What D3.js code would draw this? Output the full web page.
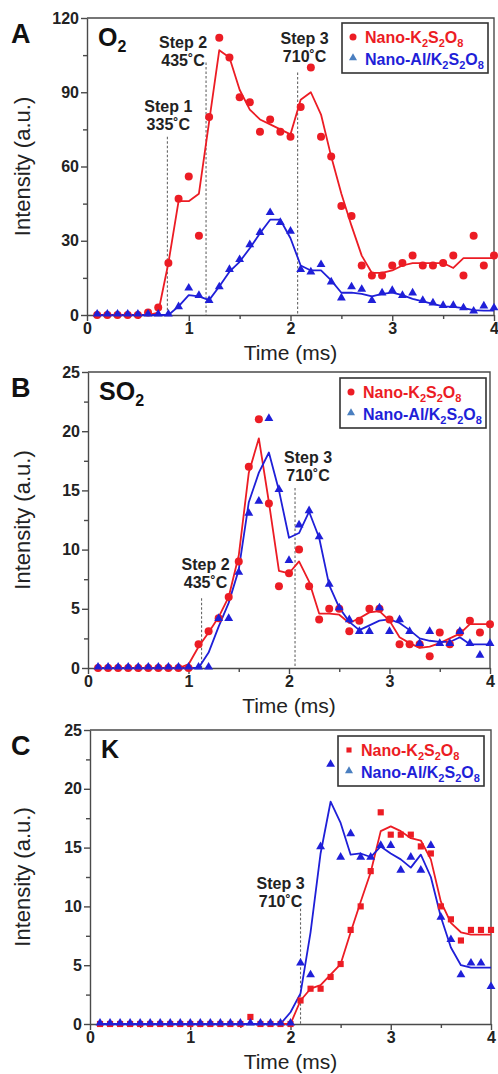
<!DOCTYPE html>
<html>
<head>
<meta charset="utf-8">
<script src="https://cdn.jsdelivr.net/npm/d3@7"></script>
<style>
  body { margin: 0; background: #fff; }
  svg { font-family: "Liberation Sans", Arial, sans-serif; }
  .axis path, .axis line { stroke: #4a4a4a; stroke-width: 1.4; }
  .axis text { font-size: 16px; font-weight: bold; fill: #222; }
</style>
</head>
<body>
<svg width="498" height="1074"></svg>
<script>
// sampling times (ms)
var timeMs = [0.1, 0.2, 0.3, 0.4, 0.5, 0.6, 0.7, 0.8, 0.9, 1.0,
              1.1, 1.2, 1.3, 1.4, 1.5, 1.6, 1.7, 1.8, 1.9, 2.0,
              2.1, 2.2, 2.3, 2.4, 2.5, 2.6, 2.7, 2.8, 2.9, 3.0,
              3.1, 3.2, 3.3, 3.4, 3.5, 3.6, 3.7, 3.8, 3.9, 4.0];

var seriesNames = ["Nano-K2S2O8", "Nano-Al/K2S2O8"];

// panel A : O2
var o2K     = [0,0,0,0,0,1,3,21,47,56,32,80,112,104,88,86,74,79,74,72,84,100,72,64,44,40,20,16,16,20,21,24,20,20,21,24,16,32,20,24];
var o2KFit  = [0,0,0,0,0,0,1,21,46,46,49,78,107,104,91,83,79,77,75,73,87,90,81,64,49,36,24,17,17,18,20,21,21,21,21,19,23,23,23,23];
var o2Al    = [0,0,0,0,0,0,0,0,3,10.5,7.5,5.5,11,18,22,28,33,41,37,33.5,18,17,20,13,6.5,11,10,5.5,8.5,9.5,7.5,8.5,5.5,4.5,3.5,3.5,2.5,1.2,3.3,2.5];
var o2AlFit = [0,0,0,0,0,0,0,0,3.5,8,7.5,6,11.5,17.5,21.5,27,33,38.5,38.5,31,20,18,18,14,9,9,8.5,7.5,8.5,9,8,6.5,5.5,4.5,3.5,3.3,2.8,2,1.8,1.8];

// panel B : SO2
var so2K     = [0,0,0,0,0,0,0,0,0,0,2,3.1,4.2,6,9,17,21,13.9,6.9,8,10,6.9,4.1,5,5,3.1,4,5,5,4.1,2,2,2,1,3,2,3,4,3,3.7];
var so2KFit  = [0,0,0,0,0,0,0,0,0,0.3,1.8,3,4.3,6,9.5,16.5,19.4,14,8.2,8,9,7.3,4.6,4.6,4.5,3.8,4.2,4.7,4.8,4,2.6,2.1,1.7,1.8,2.1,2.5,2.9,3.7,3.7,3.7];
var so2Al    = [0,0,0,0,0,0,0,0,0,0,0,0,4.1,4.1,8,13,14,21,15,9,12,13.2,11,7,5,4,3,3,5,3,4,3,2,3,2,2,3,2,1,2];
var so2AlFit = [0,0,0,0,0,0,0,0,0,0,0,1.3,3.5,5.5,8.3,14,16.5,18.2,15,11,11.4,13.2,11,7,5.1,3.9,3.2,3.6,4,4.1,3.8,3.2,2.5,2.3,2.2,2.2,2.6,2,2,2];

// panel C : K
var kK     = [0,0,0,0,0,0,0,0,0,0,0,0,0,0,0,0.6,0,0,0,0,2,3,3,4,5.1,8,10,13,18,16.1,16.1,16.1,15.1,14.5,10,8.9,7.1,8,8,8];
var kKFit  = [0,0,0,0,0,0,0,0,0,0,0,0,0,0,0,0,0,0,0,0,2,3,3.3,4.2,5.1,7.8,10.4,12.9,16.4,16.8,16.4,15.8,15.6,14,10.4,8.6,7.8,7.6,7.6,7.6];
var kAl    = [0,0,0,0,0,0,0,0,0,0,0,0,0,0,0,0,0,0,0,0,5.1,4.1,15,22,14.1,16.1,14.1,14.1,15.1,15.1,13,14.1,13,15.1,9,7.1,4.1,5.1,5.1,3.1];
var kAlFit = [0,0,0,0,0,0,0,0,0,0,0,0,0,0,0,0,0,0,0,1,2.6,7.8,14.5,18.9,17.1,14.4,14.5,14.2,15.1,14.5,14,13.3,14.4,12.5,9.1,6.5,5,4.8,4.8,4.8];

// step annotations: time of the dashed line, top of the line (a.u.), text
var o2Steps  = [{t: 0.79, top: 72,  name: "Step 1", temp: "335˚C"},
                {t: 1.17, top: 102, name: "Step 2", temp: "435˚C"},
                {t: 2.07, top: 98,  name: "Step 3", temp: "710˚C"}];
var so2Steps = [{t: 1.13, top: 5.9,  name: "Step 2", temp: "435˚C"},
                {t: 2.06, top: 15.2, name: "Step 3", temp: "710˚C"}];
var kSteps   = [{t: 2.1,  top: 9.8,  name: "Step 3", temp: "710˚C"}];

var redColor = "#ec1c24";
var blueColor = "#1f1fd8";
var legendTri = "#4a7fc0";

var svg = d3.select("svg");

var panels = [
  {letter: "A", gas: "O", sub: "2", left: 87, right: 494, top: 18, bottom: 315,
   ymax: 120, ystep: 30, kFit: o2KFit, k: o2K, al: o2Al, alFit: o2AlFit,
   steps: o2Steps, stepDx: [1, -23, 7], stepDy: [-7, 3, -10], kShape: "circle",
   legend: {x: 342, y: 23}},
  {letter: "B", gas: "SO", sub: "2", left: 88, right: 490, top: 372, bottom: 668,
   ymax: 25, ystep: 5, kFit: so2KFit, k: so2K, al: so2Al, alFit: so2AlFit,
   steps: so2Steps, stepDx: [4, 13], stepDy: [-10, -7], kShape: "circle",
   legend: {x: 340, y: 378}},
  {letter: "C", gas: "K", sub: "", left: 90, right: 491, top: 730, bottom: 1024,
   ymax: 25, ystep: 5, kFit: kKFit, k: kK, al: kAl, alFit: kAlFit,
   steps: kSteps, stepDx: [-20], stepDy: [-2], kShape: "square",
   legend: {x: 338, y: 736}}
];

panels.forEach(drawPanel);

function drawPanel(p) {
  var x = d3.scaleLinear().domain([0, 4]).range([p.left, p.right]);
  var y = d3.scaleLinear().domain([0, p.ymax]).range([p.bottom, p.top]);
  var g = svg.append("g");

  // minor ticks
  g.append("g").attr("class", "axis")
    .attr("transform", "translate(0," + p.bottom + ")")
    .call(d3.axisBottom(x).tickValues([0.5, 1.5, 2.5, 3.5]).tickSize(4).tickFormat(""))
    .select(".domain").remove();
  g.append("g").attr("class", "axis")
    .attr("transform", "translate(" + p.left + ",0)")
    .call(d3.axisLeft(y).tickValues(d3.range(p.ystep / 2, p.ymax, p.ystep)).tickSize(4).tickFormat(""))
    .select(".domain").remove();

  // major axes
  var xa = g.append("g").attr("class", "axis")
    .attr("transform", "translate(0," + p.bottom + ")")
    .call(d3.axisBottom(x).tickValues([0, 1, 2, 3, 4]).tickSize(6).tickSizeOuter(0).tickFormat(d3.format("d")));
  xa.selectAll("text").attr("y", 8);
  var ya = g.append("g").attr("class", "axis")
    .attr("transform", "translate(" + p.left + ",0)")
    .call(d3.axisLeft(y).tickValues(d3.range(0, p.ymax + 1, p.ystep)).tickSize(6).tickSizeOuter(0));
  ya.selectAll("text").attr("x", -8);

  // frame top / right
  g.append("path")
    .attr("d", "M" + p.left + "," + p.top + "H" + p.right + "V" + p.bottom)
    .attr("fill", "none").attr("stroke", "#4a4a4a").attr("stroke-width", 1.4);

  // titles
  g.append("text")
    .attr("x", (p.left + p.right) / 2).attr("y", p.bottom + 45)
    .attr("text-anchor", "middle").attr("font-size", 21).attr("fill", "#222")
    .text("Time (ms)");
  g.append("text")
    .attr("transform", "translate(30," + (p.top + p.bottom) / 2 + ") rotate(-90)")
    .attr("text-anchor", "middle").attr("font-size", 22).attr("fill", "#222")
    .text("Intensity (a.u.)");
  g.append("text")
    .attr("x", 11).attr("y", p.top + 25)
    .attr("font-size", 27).attr("font-weight", "bold").attr("fill", "#111")
    .text(p.letter);
  var gt = g.append("text")
    .attr("x", p.left + 11).attr("y", p.top + 28)
    .attr("font-size", 25).attr("font-weight", "bold").attr("fill", "#111");
  gt.append("tspan").text(p.gas);
  if (p.sub) gt.append("tspan").attr("font-size", 16).attr("dy", 6).text(p.sub);

  // step markers
  p.steps.forEach(function(s, i) {
    var sx = x(s.t), sy = y(s.top);
    g.append("line")
      .attr("x1", sx).attr("x2", sx).attr("y1", sy).attr("y2", p.bottom)
      .attr("stroke", "#666").attr("stroke-width", 1.1).attr("stroke-dasharray", "2.5,2");
    var lx = sx + p.stepDx[i], ly = sy + p.stepDy[i];
    g.append("text").attr("x", lx).attr("y", ly - 18)
      .attr("text-anchor", "middle").attr("font-size", 16).attr("font-weight", "bold").attr("fill", "#222")
      .text(s.name);
    g.append("text").attr("x", lx).attr("y", ly)
      .attr("text-anchor", "middle").attr("font-size", 16).attr("font-weight", "bold").attr("fill", "#222")
      .text(s.temp);
  });

  var line = d3.line()
    .x(function(d, i) { return x(timeMs[i]); })
    .y(function(d) { return y(d); });

  g.append("path").datum(p.kFit)
    .attr("d", line).attr("fill", "none").attr("stroke", redColor)
    .attr("stroke-width", 1.8).attr("stroke-linejoin", "round");
  g.append("path").datum(p.alFit)
    .attr("d", line).attr("fill", "none").attr("stroke", blueColor)
    .attr("stroke-width", 1.8).attr("stroke-linejoin", "round");

  var tri = d3.symbol().type(d3.symbolTriangle).size(34);
  var sq = d3.symbol().type(d3.symbolSquare).size(38);

  if (p.kShape == "circle") {
    g.selectAll(".kpt").data(p.k).enter().append("circle")
      .attr("cx", function(d, i) { return x(timeMs[i]); })
      .attr("cy", function(d) { return y(d); })
      .attr("r", 4).attr("fill", redColor);
  } else {
    g.selectAll(".kpt").data(p.k).enter().append("path")
      .attr("d", sq)
      .attr("transform", function(d, i) { return "translate(" + x(timeMs[i]) + "," + y(d) + ")"; })
      .attr("fill", redColor);
  }
  g.selectAll(".alpt").data(p.al).enter().append("path")
    .attr("d", tri)
    .attr("transform", function(d, i) { return "translate(" + x(timeMs[i]) + "," + (y(d) - 1) + ")"; })
    .attr("fill", blueColor);

  // legend
  var lg = g.append("g").attr("transform", "translate(" + p.legend.x + "," + p.legend.y + ")");
  lg.append("rect").attr("width", 146).attr("height", 50)
    .attr("fill", "#fff").attr("stroke", "#333").attr("stroke-width", 1.6);
  if (p.kShape == "circle") {
    lg.append("circle").attr("cx", 11).attr("cy", 14).attr("r", 3.5).attr("fill", redColor);
  } else {
    lg.append("path").attr("d", d3.symbol().type(d3.symbolSquare).size(26))
      .attr("transform", "translate(11,14)").attr("fill", redColor);
  }
  lg.append("path").attr("d", d3.symbol().type(d3.symbolTriangle).size(28))
    .attr("transform", "translate(11,35)").attr("fill", legendTri);
  seriesNames.forEach(function(name, i) {
    var t = lg.append("text").attr("x", 23).attr("y", 20 + i * 22)
      .attr("font-size", 16).attr("font-weight", "bold")
      .attr("fill", i == 0 ? redColor : blueColor);
    // split name into normal text and digit subscripts
    var parts = name.split(/(\d)/);
    var sub = false;
    parts.forEach(function(part) {
      if (part === "") return;
      if (/^\d$/.test(part)) {
        t.append("tspan").attr("font-size", 11).attr("dy", sub ? 0 : 4).text(part);
        sub = true;
      } else {
        t.append("tspan").attr("dy", sub ? -4 : 0).text(part);
        sub = false;
      }
    });
  });
}
</script>
</body>
</html>
